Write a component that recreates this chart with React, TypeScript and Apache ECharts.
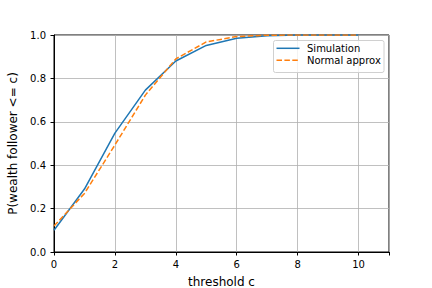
import React, { useEffect, useRef } from "react";
import * as echarts from "echarts";

const thresholds = [0, 1, 2, 3, 4, 5, 6, 7, 8, 9, 10];
const simulation = [0.1, 0.29, 0.548, 0.746, 0.88, 0.952, 0.985, 0.997, 1.0, 1.0, 1.0];
const normalApprox = [0.12, 0.27, 0.493, 0.723, 0.89, 0.968, 0.993, 0.999, 1.0, 1.0, 1.0];
const seriesNames = ["Simulation", "Normal approx"];
const seriesColors = ["#1f77b4", "#ff7f0e"];
const xMaxLabel = 10;

const FONT = "DejaVu Sans";

export default function App() {
  const ref = useRef<HTMLDivElement>(null);
  useEffect(() => {
    if (!ref.current) return;
    const chart = echarts.init(ref.current, null, { renderer: "svg" });
    chart.setOption({
      animation: false,
      textStyle: { fontFamily: FONT },
      grid: {
        left: 54,
        right: 43,
        top: 35,
        bottom: 36,
        show: true,
        borderColor: "#000",
        borderWidth: 1,
        containLabel: false,
        outerBoundsMode: "none",
      },
      xAxis: {
        type: "value",
        min: 0,
        max: 11,
        interval: 2,
        name: "threshold c",
        nameLocation: "middle",
        nameGap: 24,
        nameTextStyle: { fontFamily: FONT, fontSize: 12, color: "#000" },
        axisLine: { show: true, lineStyle: { color: "#000", width: 1 } },
        axisTick: { show: true, length: 3.5, lineStyle: { color: "#000" } },
        axisLabel: {
          fontFamily: FONT,
          fontSize: 10,
          color: "#000",
          margin: 7,
          formatter: (v: number) => (v > xMaxLabel ? "" : String(v)),
        },
        splitLine: { show: true, lineStyle: { color: "#b0b0b0", width: 0.8 } },
      },
      yAxis: {
        type: "value",
        min: 0,
        max: 1,
        interval: 0.2,
        name: "P(wealth follower <= c)",
        nameLocation: "middle",
        nameGap: 31.5,
        nameTextStyle: { fontFamily: FONT, fontSize: 12, color: "#000" },
        axisLine: { show: true, lineStyle: { color: "#000", width: 1 } },
        axisTick: { show: true, length: 3.5, lineStyle: { color: "#000" } },
        axisLabel: {
          fontFamily: FONT,
          fontSize: 10,
          color: "#000",
          margin: 8,
          formatter: (v: number) => v.toFixed(1),
        },
        splitLine: { show: true, lineStyle: { color: "#b0b0b0", width: 0.8 } },
      },
      graphic: [
        {
          type: "rect",
          shape: { x: 273.5, y: 40.5, width: 110.5, height: 32, r: 2 },
          style: { fill: "rgba(255,255,255,0.8)", stroke: "#d0d0d0", lineWidth: 1 },
          z: 10,
        },
        {
          type: "line",
          shape: { x1: 276.5, y1: 48.3, x2: 299.5, y2: 48.3 },
          style: { stroke: seriesColors[0], lineWidth: 1.5 },
          z: 11,
        },
        {
          type: "line",
          shape: { x1: 276.5, y1: 60.3, x2: 299.5, y2: 60.3 },
          style: { stroke: seriesColors[1], lineWidth: 1.5, lineDash: [5.5, 2.4] },
          z: 11,
        },
        {
          type: "text",
          x: 307,
          y: 48.3,
          style: { text: seriesNames[0], font: `10px "${FONT}"`, fill: "#000", verticalAlign: "middle" },
          z: 11,
        },
        {
          type: "text",
          x: 307,
          y: 60.3,
          style: { text: seriesNames[1], font: `10px "${FONT}"`, fill: "#000", verticalAlign: "middle" },
          z: 11,
        },
      ],
      series: [
        {
          name: seriesNames[0],
          type: "line",
          data: thresholds.map((t, i) => [t, simulation[i]]),
          symbol: "none",
          color: seriesColors[0],
          lineStyle: { color: seriesColors[0], width: 1.5 },
          z: 3,
        },
        {
          name: seriesNames[1],
          type: "line",
          data: thresholds.map((t, i) => [t, normalApprox[i]]),
          symbol: "none",
          color: seriesColors[1],
          lineStyle: { color: seriesColors[1], width: 1.5, type: [5.5, 2.4] },
          z: 4,
        },
      ],
    });
    return () => chart.dispose();
  }, []);
  return (
    <div
      ref={ref}
      style={{ width: 432, height: 288, position: "absolute", left: 0, top: 0 }}
    />
  );
}
